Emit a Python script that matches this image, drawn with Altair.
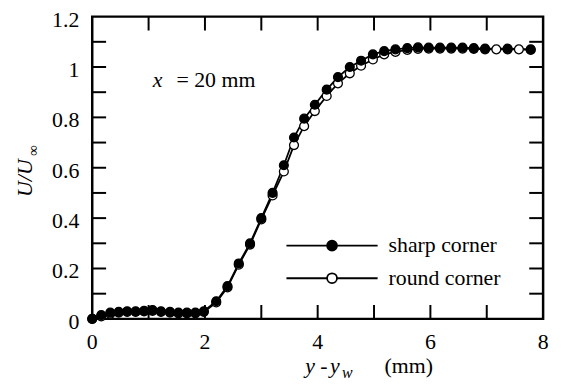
import altair as alt
import pandas as pd

# ---- data ----
sharp_x = [0.0, 0.16, 0.32, 0.47, 0.62, 0.77, 0.92, 1.07, 1.22, 1.38, 1.53, 1.68, 1.83, 1.98,
           2.2, 2.4, 2.6, 2.8, 3.0, 3.2, 3.4, 3.58, 3.76, 3.95, 4.16, 4.36, 4.57, 4.77, 4.98,
           5.18, 5.38, 5.59, 5.78, 5.97, 6.17, 6.37, 6.57, 6.77, 6.97, 7.37, 7.78]
sharp_y = [0.0, 0.015, 0.025, 0.028, 0.03, 0.03, 0.032, 0.035, 0.03, 0.028, 0.025, 0.025, 0.025, 0.03,
           0.07, 0.13, 0.22, 0.30, 0.40, 0.50, 0.61, 0.72, 0.795, 0.85, 0.91, 0.96, 1.0, 1.025, 1.05,
           1.063, 1.07, 1.075, 1.078, 1.077, 1.077, 1.077, 1.077, 1.075, 1.073, 1.073, 1.07]
round_x = [0.0, 0.16, 0.32, 0.47, 0.62, 0.77, 0.92, 1.07, 1.22, 1.38, 1.53, 1.68, 1.83, 1.98,
           2.2, 2.4, 2.6, 2.8, 3.0, 3.2, 3.4, 3.58, 3.76, 3.95, 4.16, 4.36, 4.57, 4.77, 4.98,
           5.18, 5.38, 5.59, 5.78, 5.97, 6.17, 6.37, 6.57, 6.77, 6.97, 7.17, 7.37, 7.57, 7.78]
round_y = [0.0, 0.01, 0.02, 0.025, 0.028, 0.028, 0.03, 0.032, 0.028, 0.025, 0.022, 0.022, 0.022, 0.028,
           0.065, 0.125, 0.215, 0.295, 0.395, 0.49, 0.585, 0.69, 0.765, 0.825, 0.885, 0.935, 0.975, 1.005, 1.03,
           1.05, 1.06, 1.068, 1.072, 1.073, 1.073, 1.073, 1.073, 1.072, 1.07, 1.07, 1.07, 1.07, 1.068]
series_names = ["sharp corner", "round corner"]
x_label_values = [0, 2, 4, 6, 8]
x_label_text = ["0", "2", "4", "6", "8"]
y_label_values = [0, 0.2, 0.4, 0.6, 0.8, 1.0, 1.2]
y_label_text = ["0", "0.2", "0.4", "0.6", "0.8", "1", "1.2"]
x_tick_values = [1, 2, 3, 4, 5, 6, 7]
y_tick_values = [0.1, 0.2, 0.3, 0.4, 0.5, 0.6, 0.7, 0.8, 0.9, 1.0, 1.1]

FONT = "Liberation Serif"
W, H = 455, 305
TICK = 14

df = pd.concat([
    pd.DataFrame({"x": round_x, "y": round_y, "series": series_names[1]}),
    pd.DataFrame({"x": sharp_x, "y": sharp_y, "series": series_names[0]}),
], ignore_index=True)

xs = alt.Scale(domain=[0, 8], nice=False, zero=False)
ys = alt.Scale(domain=[0, 1.2], nice=False, zero=False)

legend_symbol = "M-9.2,0L-1,0M1,0L9.2,0M-1,0A1,1,0,1,0,1,0A1,1,0,1,0,-1,0Z"

lines = alt.Chart(df).mark_line(color="black", strokeWidth=1.8).encode(
    x=alt.X("x:Q", scale=xs, axis=None),
    y=alt.Y("y:Q", scale=ys, axis=None),
    detail="series:N",
)

points = alt.Chart(df).mark_circle(size=80, opacity=1, stroke="black", strokeWidth=1.3).encode(
    x=alt.X("x:Q", scale=xs, axis=None),
    y=alt.Y("y:Q", scale=ys, axis=None),
    fill=alt.Fill("series:N",
                  scale=alt.Scale(domain=series_names, range=["black", "white"]),
                  legend=alt.Legend(title=None, orient="none", legendX=231, legendY=220,
                                    symbolType=legend_symbol, symbolSize=100,
                                    symbolStrokeColor="black", symbolStrokeWidth=1.8,
                                    symbolOpacity=1,
                                    labelFont=FONT, labelFontSize=22, labelColor="black",
                                    labelOffset=46, rowPadding=11, padding=0)),
)

tick_x = pd.DataFrame({"v": x_tick_values})
tick_y = pd.DataFrame({"v": y_tick_values})
rx_bottom = alt.Chart(tick_x).mark_rule(color="black", strokeWidth=2).encode(
    x=alt.X("v:Q", scale=xs, axis=None), y=alt.value(H), y2=alt.value(H - TICK))
rx_top = alt.Chart(tick_x).mark_rule(color="black", strokeWidth=2).encode(
    x=alt.X("v:Q", scale=xs, axis=None), y=alt.value(0), y2=alt.value(TICK))
ry_left = alt.Chart(tick_y).mark_rule(color="black", strokeWidth=2).encode(
    y=alt.Y("v:Q", scale=ys, axis=None), x=alt.value(0), x2=alt.value(TICK))
ry_right = alt.Chart(tick_y).mark_rule(color="black", strokeWidth=2).encode(
    y=alt.Y("v:Q", scale=ys, axis=None), x=alt.value(W), x2=alt.value(W - TICK))

# tick labels, placed through the scales
xlab = alt.Chart(pd.DataFrame({"v": x_label_values, "t": x_label_text})).mark_text(
    font=FONT, fontSize=22, color="black", align="center", baseline="alphabetic").encode(
    x=alt.X("v:Q", scale=xs, axis=None), y=alt.value(H + 30), text="t:N")
ylab = alt.Chart(pd.DataFrame({"v": y_label_values, "t": y_label_text})).mark_text(
    font=FONT, fontSize=22, color="black", align="right", baseline="alphabetic", dy=10).encode(
    y=alt.Y("v:Q", scale=ys, axis=None), x=alt.value(-13), text="t:N")

one = pd.DataFrame({"a": [0]})


def txt(s, x, y, size=22, style="normal", angle=0, align="left"):
    return alt.Chart(one).mark_text(text=s, font=FONT, fontSize=size, fontStyle=style,
                                    color="black", angle=angle,
                                    align=align, baseline="alphabetic").encode(
        x=alt.value(x), y=alt.value(y))


annotations = [
    txt("x", 61, 71, style="italic"),
    txt("= 20 mm", 85, 71),
    txt("y", 215, 360, style="italic"),
    txt("-", 230, 360),
    txt("y", 240, 360, style="italic"),
    txt("w", 252, 365, size=16, style="italic"),
    txt("(mm)", 295, 360),
    txt("U/U", -61, 163, style="italic", angle=270, align="center"),
    txt("\u221e", -55, 135, size=15, angle=270, align="center"),
]

chart = alt.layer(lines, rx_bottom, rx_top, ry_left, ry_right, points, xlab, ylab,
                  *annotations).properties(
    width=W, height=H,
    autosize=alt.AutoSizeParams(type="none"),
    padding={"left": 85, "top": 7, "right": 12, "bottom": 62},
).configure(
    background="white", font=FONT
).configure_view(
    stroke="black", strokeWidth=2.5
)

chart.save("out.html", embed_options={"renderer": "svg", "actions": False})
